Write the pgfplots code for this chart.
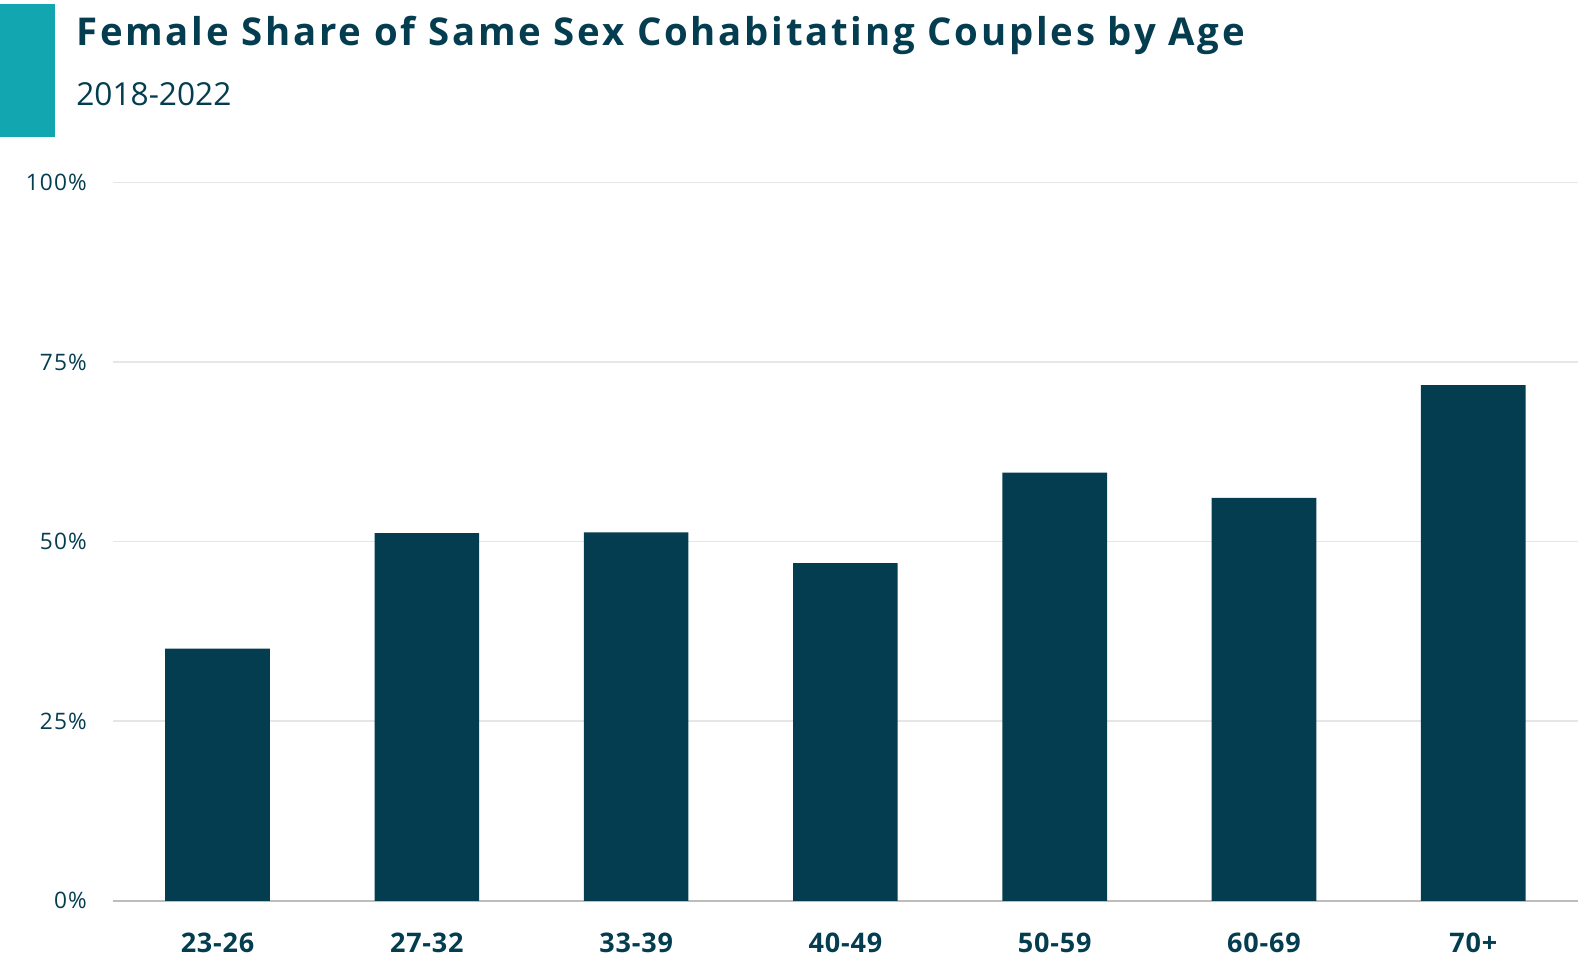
\documentclass[border=0pt]{standalone}
\usepackage{fontspec}
\setmainfont{Open Sans}
\usepackage{pgfplots}
\pgfplotsset{compat=1.18}
\definecolor{Navy}{HTML}{033D4F}
\definecolor{Teal}{HTML}{12A6B1}
\definecolor{GridGray}{HTML}{E6E6E6}
\definecolor{BaseGray}{HTML}{BDBDBD}

\begin{document}
\begin{tikzpicture}
% page frame, 1px = 0.3pt
\useasboundingbox (0,0) rectangle (474pt,288.6pt);
\fill[Teal] (0,247.5pt) rectangle (16.5pt,287.4pt);
\node[anchor=base west,inner sep=0,text=Navy,font=\fontsize{11.5pt}{13pt}\selectfont\bfseries\addfontfeature{LetterSpace=7.2}]
  at (22.7pt,274.8pt) {Female Share of Same Sex Cohabitating Couples by Age};
\node[anchor=base west,inner sep=0,text=Navy,font=\fontsize{9.5pt}{11pt}\selectfont]
  at (22.7pt,256.8pt) {2018-2022};
\begin{axis}[
  at={(33.87pt,18.36pt)},anchor=south west,
  scale only axis,
  width=439.5pt,height=215.5pt,
  xmin=-0.5,xmax=6.5,
  ymin=0,ymax=100,
  ytick={0,25,50,75,100},
  xtick=data,
  xticklabels={23-26,27-32,33-39,40-49,50-59,60-69,70+},
  yticklabel={\pgfmathprintnumber{\tick}\%},
  /pgf/number format/assume math mode=true,
  major tick length=0pt,
  axis line style={draw=none},
  ymajorgrids,
  grid style={GridGray,line width=0.5pt},
  yticklabel style={font=\fontsize{6.8pt}{8pt}\selectfont\addfontfeature{LetterSpace=5},text=Navy,xshift=-4.3pt},
  xticklabel style={font=\fontsize{8.1pt}{9.5pt}\selectfont\bfseries\addfontfeature{LetterSpace=3},text=Navy,yshift=-6pt},
  clip=false,
]
\draw[BaseGray,line width=0.6pt] (axis cs:-0.5,0) -- (axis cs:6.5,0);
\addplot[ybar,bar width=0.5,fill=Navy,draw=none]
 coordinates {(0,35.1)(1,51.2)(2,51.3)(3,47.0)(4,59.6)(5,56.1)(6,71.8)};
\end{axis}
\end{tikzpicture}
\end{document}
